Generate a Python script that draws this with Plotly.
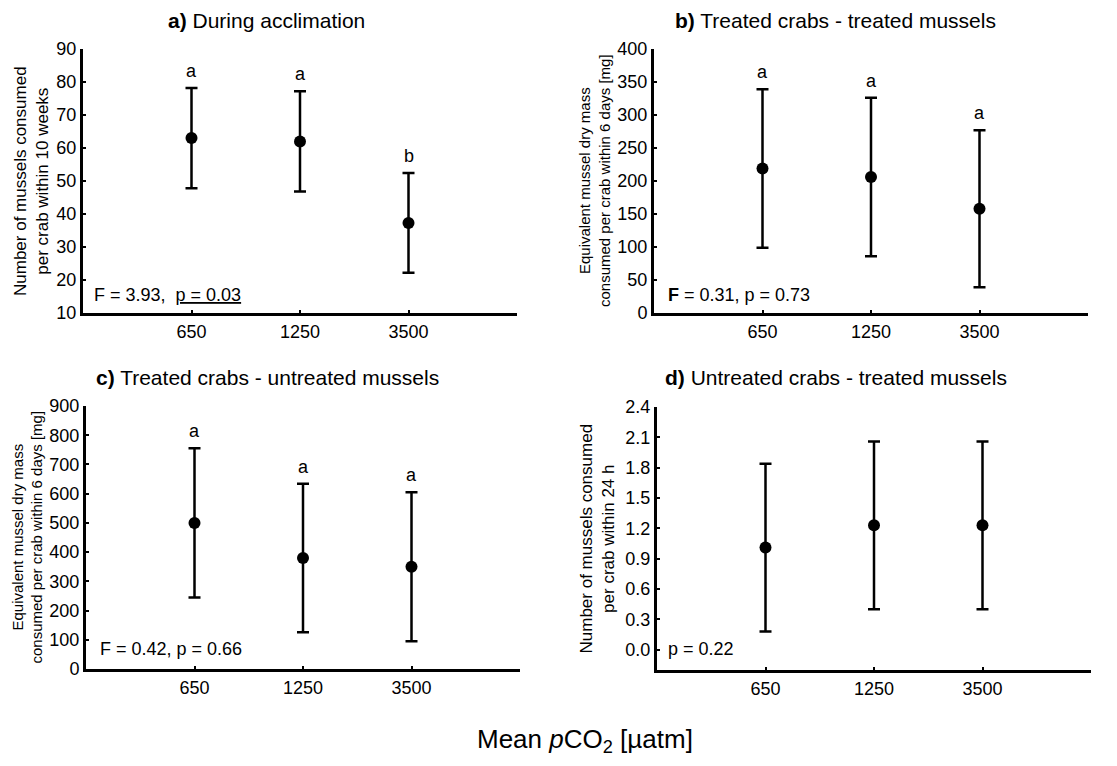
import plotly.graph_objects as go

categories = ["650", "1250", "3500"]

a_mean = [63.0, 62.0, 37.3]
a_err = [15.2, 15.2, 15.1]
a_letters = ["a", "a", "b"]

b_mean = [219, 206, 158]
b_err = [120, 120, 119]
b_letters = ["a", "a", "a"]

c_mean = [500, 380, 350]
c_err = [255, 254, 255]
c_letters = ["a", "a", "a"]

d_mean = [1.01, 1.23, 1.23]
d_err = [0.83, 0.83, 0.83]

titles = ["<b>a)</b> During acclimation", "<b>b)</b> Treated crabs - treated mussels",
          "<b>c)</b> Treated crabs - untreated mussels", "<b>d)</b> Untreated crabs - treated mussels"]
ytitles = ["Number of mussels consumed<br>per crab within 10 weeks",
           "Equivalent mussel dry mass<br>consumed per crab within 6 days [mg]",
           "Equivalent mussel dry mass<br>consumed per crab within 6 days [mg]",
           "Number of mussels consumed<br>per crab within 24 h"]
stats = ["F = 3.93,  <u>p = 0.03</u>", "<b>F</b> = 0.31, p = 0.73", "F = 0.42, p = 0.66", "p = 0.22"]

W, H = 1117, 766
FONT = "Arial, Liberation Sans, sans-serif"

def px(x):
    return x / W

def py(y):
    return 1 - y / H

# panel boxes in pixels: (left, right, top, bottom)
boxes = [(83, 517, 49, 313), (654, 1088, 49, 313), (86, 520, 406, 669), (657, 1091, 407, 670)]
yranges = [[10, 90], [0, 400], [0, 900], [-0.2, 2.4]]
ytickvals = [list(range(10, 91, 10)), list(range(0, 401, 50)), list(range(0, 901, 100)),
             [0.0, 0.3, 0.6, 0.9, 1.2, 1.5, 1.8, 2.1, 2.4]]
ytickfmt = ["d", "d", "d", ".1f"]
means = [a_mean, b_mean, c_mean, d_mean]
errs = [a_err, b_err, c_err, d_err]
letters = [a_letters, b_letters, c_letters, None]
title_pos = [(266, 21), (835, 21), (267, 377), (836, 377)]
ytitle_pos = [(31, 17), (594, 15), (27, 15), (597, 17)]
stat_pos = [(92, 295), (666, 295), (98, 649), (666, 649)]

fig = go.Figure()
annotations = []
layout = {}
for i in range(4):
    sfx = "" if i == 0 else str(i + 1)
    xa, ya = "x" + sfx, "y" + sfx
    l, r, t, b = boxes[i]
    fig.add_trace(go.Scatter(
        x=categories, y=means[i], xaxis=xa, yaxis=ya, mode="markers",
        marker=dict(size=12, color="black"),
        error_y=dict(type="data", array=errs[i], visible=True, color="black",
                     thickness=2.5, width=6),
        showlegend=False, hoverinfo="skip"))
    layout["xaxis" + sfx] = dict(
        domain=[px(l), px(r)], anchor=ya, type="category", range=[-1, 3],
        showline=True, linecolor="black", linewidth=3, ticks="inside", ticklen=3,
        tickwidth=2, tickcolor="black", showgrid=False, zeroline=False, automargin=False,
        tickfont=dict(family=FONT, size=18, color="black"))
    layout["yaxis" + sfx] = dict(
        domain=[py(b), py(t)], anchor=xa, range=yranges[i], tickvals=ytickvals[i],
        tickformat=ytickfmt[i], automargin=False,
        showline=True, linecolor="black", linewidth=3, ticks="inside", ticklen=3,
        tickwidth=2, tickcolor="black", showgrid=False, zeroline=False,
        tickfont=dict(family=FONT, size=18, color="black"))
    annotations.append(dict(text=titles[i], x=px(title_pos[i][0]), y=py(title_pos[i][1]),
                            xref="paper", yref="paper", showarrow=False,
                            xanchor="center", yanchor="middle",
                            font=dict(family=FONT, size=21, color="black")))
    annotations.append(dict(text=ytitles[i], x=px(ytitle_pos[i][0]), y=py((t + b) / 2),
                            xref="paper", yref="paper", showarrow=False, textangle=-90,
                            xanchor="center", yanchor="middle",
                            font=dict(family=FONT, size=ytitle_pos[i][1], color="black")))
    annotations.append(dict(text=stats[i], x=px(stat_pos[i][0]), y=py(stat_pos[i][1]),
                            xref="paper", yref="paper", showarrow=False,
                            xanchor="left", yanchor="middle",
                            font=dict(family=FONT, size=18, color="black")))
    if letters[i]:
        for j, (m, e, lt) in enumerate(zip(means[i], errs[i], letters[i])):
            annotations.append(dict(text=lt, x=j, y=m + e, xref=xa, yref=ya,
                                    showarrow=False, yanchor="middle", yshift=17,
                                    font=dict(family=FONT, size=18, color="black")))

annotations.append(dict(text="Mean <i>p</i>CO<sub>2</sub> [µatm]", x=px(585), y=py(740),
                        xref="paper", yref="paper", showarrow=False,
                        xanchor="center", yanchor="middle",
                        font=dict(family=FONT, size=26, color="black")))

fig.update_layout(
    width=W, height=H, margin=dict(l=0, r=0, t=0, b=0, pad=0, autoexpand=False),
    paper_bgcolor="white", plot_bgcolor="white",
    annotations=annotations, **layout)

fig.write_html("out.html", config={"displayModeBar": False},
               post_script="document.body.style.margin='0';document.body.style.overflow='hidden';")
